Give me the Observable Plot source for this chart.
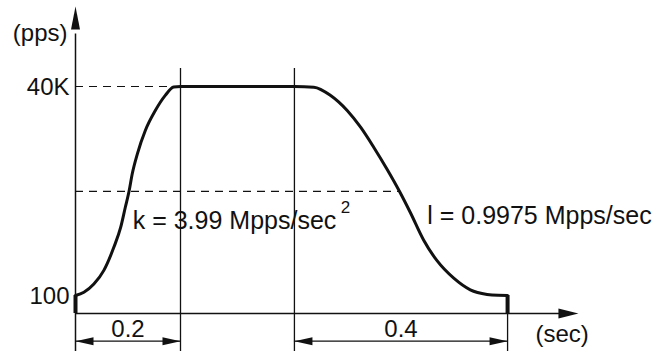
<!DOCTYPE html>
<html>
<head>
<meta charset="utf-8">
<style>
  html, body { margin: 0; padding: 0; background: #fff; }
  #chart { width: 670px; height: 351px; }
</style>
<script src="https://cdn.jsdelivr.net/npm/d3@7"></script>
<script src="https://cdn.jsdelivr.net/npm/@observablehq/plot@0.6"></script>
</head>
<body>
<div id="chart"></div>
<script>
// ---- data (time in seconds, rate in pulses per second) ----
const curveTime = [0, 0.016, 0.035, 0.054, 0.073, 0.086, 0.095, 0.102, 0.108, 0.118, 0.133, 0.152, 0.171, 0.187, 0.2,
                   0.417, 0.454, 0.486, 0.5175, 0.543, 0.568, 0.594, 0.617, 0.638, 0.663, 0.689, 0.7205, 0.752, 0.784, 0.805, 0.823];
const curveRate = [100, 730, 2300, 4900, 9300, 13100, 17000, 20000, 23300, 27200, 31600, 35400, 38300, 39900, 40000,
                   40000, 39870, 38280, 35420, 32230, 28410, 24100, 20000, 15900, 10700, 6700, 3410, 1190, 300, 130, 100];

const phaseTimes = [0, 0.2, 0.417, 0.823];      // start, end of accel, start of decel, stop
const rateTicks = [100, 40000];
const rateTickLabels = ["100", "40K"];
const spanStarts = [0, 0.417];
const spanEnds = [0.2, 0.823];
const spanLabels = ["0.2", "0.4"];
const halfRate = 20000;
const halfRateEnd = 0.617;
const accelLabel = "k = 3.99 Mpps/sec";
const accelExponent = "2";
const decelLabel = "l = 0.9975 Mpps/sec";
const yUnit = "(pps)";
const xUnit = "(sec)";

// ---- layout constants (not data) ----
const baseRate = -3330;      // level of the time axis
const dimRate = -8620;       // level of the dimension arrows
const bottomRate = -11000;   // below the frame
const guideTop = 43440;      // top of the phase guide lines
const yArrowTip = 55270;
const xArrowTip = 0.958;

const curve = curveTime.map((t, i) => ({t, r: curveRate[i]}));
const spans = spanStarts.map((s, i) => ({s, e: spanEnds[i], label: spanLabels[i], m: (s + spanEnds[i]) / 2}));
const ticks = rateTicks.map((v, i) => ({v, label: rateTickLabels[i]}));

const ink = "#111";
const upHead = {draw(c) { c.moveTo(0, 0); c.lineTo(-4.5, 23); c.lineTo(4.5, 23); c.closePath(); }};
const rightHead = {draw(c) { c.moveTo(0, 0); c.lineTo(-20, -5); c.lineTo(-20, 5); c.closePath(); }};
const dimRight = {draw(c) { c.moveTo(0, 0); c.lineTo(-18, -4); c.lineTo(-18, 4); c.closePath(); }};
const dimLeft = {draw(c) { c.moveTo(0, 0); c.lineTo(18, -4); c.lineTo(18, 4); c.closePath(); }};

const chart = Plot.plot({
  width: 670,
  height: 351,
  marginLeft: 75,
  marginRight: 70,
  marginTop: 86,
  marginBottom: 38,
  x: {domain: [0, 1], axis: null},
  y: {domain: [baseRate, 40000], axis: null},
  style: {fontFamily: "'Liberation Sans', Arial, sans-serif", background: "#fff", overflow: "visible", color: ink},
  marks: [
    // dashed guides
    Plot.ruleY([40000], {x1: phaseTimes[0], x2: phaseTimes[1], stroke: ink, strokeWidth: 1.2, strokeDasharray: "8,6"}),
    Plot.ruleY([halfRate], {x1: phaseTimes[0], x2: halfRateEnd, stroke: ink, strokeWidth: 1.2, strokeDasharray: "8,6"}),
    // phase guide verticals
    Plot.ruleX([phaseTimes[1], phaseTimes[2]], {y1: bottomRate, y2: guideTop, stroke: ink, strokeWidth: 1.3}),
    Plot.ruleX([phaseTimes[3]], {y1: bottomRate, y2: 100, stroke: ink, strokeWidth: 1.3}),
    // axes
    Plot.ruleX([0], {y1: bottomRate, y2: 50000, stroke: ink, strokeWidth: 1.5}),
    Plot.ruleY([baseRate], {x1: 0, x2: xArrowTip - 0.02, stroke: ink, strokeWidth: 1.5}),
    Plot.dot([{t: 0, r: yArrowTip}], {x: "t", y: "r", symbol: upHead, fill: ink, stroke: null}),
    Plot.dot([{t: xArrowTip, r: baseRate}], {x: "t", y: "r", symbol: rightHead, fill: ink, stroke: null}),
    // start / stop steps
    Plot.ruleX([phaseTimes[0], phaseTimes[3]], {y1: baseRate, y2: 100, stroke: ink, strokeWidth: 4}),
    // speed profile
    Plot.line(curve, {x: "t", y: "r", curve: "monotone-x", stroke: ink, strokeWidth: 3}),
    // dimension arrows
    Plot.ruleY(spans, {y: () => dimRate, x1: "s", x2: "e", stroke: ink, strokeWidth: 1.3}),
    Plot.dot(spans, {x: "s", y: () => dimRate, symbol: dimLeft, fill: ink, stroke: null}),
    Plot.dot(spans, {x: "e", y: () => dimRate, symbol: dimRight, fill: ink, stroke: null}),
    Plot.text(spans, {x: "m", y: () => -6300, text: "label", fontSize: 24, fill: ink}),
    // tick labels
    Plot.text(ticks, {x: () => 0, y: "v", text: "label", textAnchor: "end", dx: -6, dy: 1, fontSize: 24, fill: ink}),
    Plot.text([yUnit], {x: () => 0, y: () => 50060, text: d => d, textAnchor: "end", dx: -8, fontSize: 24, fill: ink}),
    Plot.text([xUnit], {x: () => 0.876, y: () => -7340, text: d => d, textAnchor: "start", fontSize: 24, fill: ink}),
    // annotations
    Plot.text([accelLabel], {x: () => 0.109, y: () => 14400, text: d => d, textAnchor: "start", fontSize: 25, fill: ink}),
    Plot.text([accelExponent], {x: () => 0.505, y: () => 16900, text: d => d, textAnchor: "start", fontSize: 17, fill: ink}),
    Plot.text([decelLabel], {x: () => 0.67, y: () => 15300, text: d => d, textAnchor: "start", fontSize: 25, fill: ink})
  ]
});
document.getElementById("chart").appendChild(chart);
</script>
</body>
</html>
